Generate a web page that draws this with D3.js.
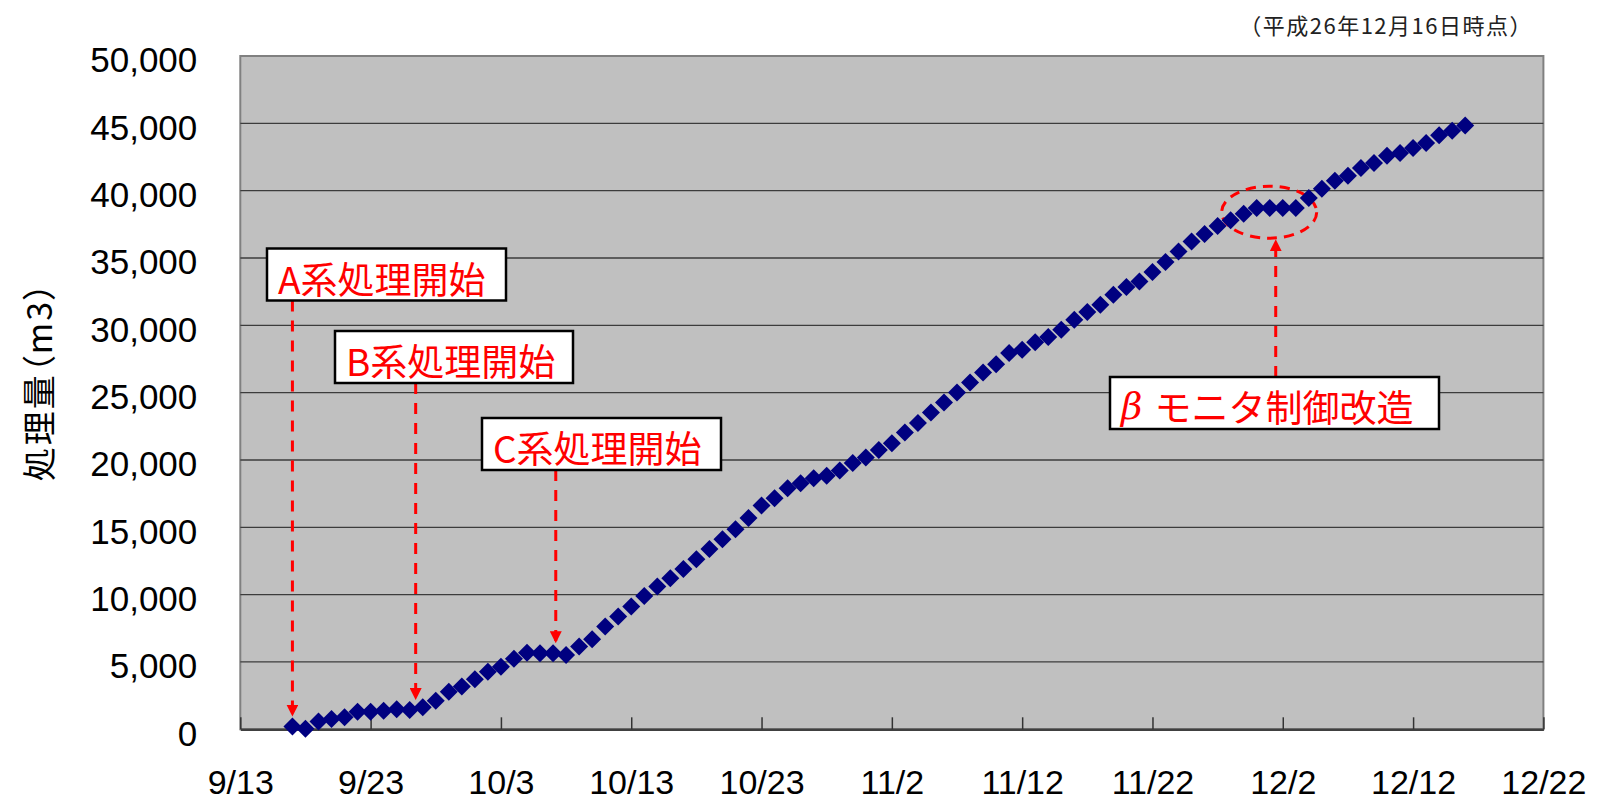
<!DOCTYPE html>
<html lang="ja">
<head>
<meta charset="utf-8">
<title>処理量の推移</title>
<script src="https://cdn.jsdelivr.net/npm/d3@7/dist/d3.min.js"></script>
<style>
  html, body { margin: 0; padding: 0; background: #ffffff; }
  svg { display: block; }
  .palt { font-feature-settings: "palt"; }
</style>
</head>
<body>
<div id="chart"></div>
<script>
// Daily cumulative treated volume (m3), 2014/9/17 - 2014/12/16
const days = [
  "9/17","9/18","9/19","9/20","9/21","9/22","9/23","9/24","9/25","9/26","9/27","9/28","9/29","9/30",
  "10/1","10/2","10/3","10/4","10/5","10/6","10/7","10/8","10/9","10/10","10/11","10/12","10/13","10/14",
  "10/15","10/16","10/17","10/18","10/19","10/20","10/21","10/22","10/23","10/24","10/25","10/26","10/27",
  "10/28","10/29","10/30","10/31",
  "11/1","11/2","11/3","11/4","11/5","11/6","11/7","11/8","11/9","11/10","11/11","11/12","11/13","11/14",
  "11/15","11/16","11/17","11/18","11/19","11/20","11/21","11/22","11/23","11/24","11/25","11/26","11/27",
  "11/28","11/29","11/30",
  "12/1","12/2","12/3","12/4","12/5","12/6","12/7","12/8","12/9","12/10","12/11","12/12","12/13","12/14",
  "12/15","12/16"
];
const volume = [
  200, 50, 570, 770, 890, 1310, 1310, 1380, 1480, 1430, 1630, 2120, 2790, 3170,
  3720, 4280, 4650, 5230, 5690, 5650, 5650, 5520, 6140, 6690, 7630, 8370, 9110, 9900,
  10600, 11220, 11910, 12630, 13380, 14120, 14860, 15700, 16620, 17160, 17900, 18280, 18650,
  18820, 19220, 19770, 20180,
  20750, 21250, 22040, 22740, 23530, 24270, 25010, 25750, 26500, 27100, 27940, 28180, 28750, 29130,
  29670, 30410, 30980, 31530, 32270, 32840, 33260, 33960, 34700, 35490, 36230, 36780, 37370,
  37810, 38290, 38710,
  38710, 38710, 38710, 39450, 40150, 40740, 41110, 41680, 42060, 42600, 42800, 43170, 43540, 44110,
  44450, 44830
];
const xTickLabels = ["9/13","9/23","10/3","10/13","10/23","11/2","11/12","11/22","12/2","12/12","12/22"];
const yTickValues = [0, 5000, 10000, 15000, 20000, 25000, 30000, 35000, 40000, 45000, 50000];

// Event annotations: label and the day the arrow points at
const eventLabels = ["A系処理開始", "B系処理開始", "C系処理開始", "モニタ制御改造"];
const eventDays   = ["9/17", "9/26", "10/7", "12/1"];

const YEAR = 2014;
const parseDay = s => d3.timeParse("%Y/%m/%d")(YEAR + "/" + s);

const W = 1597, H = 803;
const plot = { left: 240.3, right: 1543.4, top: 56, bottom: 729.3 };

const svg = d3.select("#chart").append("svg")
  .attr("width", W).attr("height", H)
  .attr("viewBox", `0 0 ${W} ${H}`);

const x = d3.scaleTime()
  .domain([parseDay(xTickLabels[0]), parseDay(xTickLabels[xTickLabels.length - 1])])
  .range([plot.left, plot.right]);
const y = d3.scaleLinear()
  .domain([0, 50000])
  .range([plot.bottom, plot.top]);

const data = days.map((d, i) => ({ date: parseDay(d), value: volume[i] }));

// Plot area background and frame
svg.append("rect")
  .attr("x", plot.left).attr("y", plot.top)
  .attr("width", plot.right - plot.left).attr("height", plot.bottom - plot.top)
  .attr("fill", "#c0c0c0")
  .attr("stroke", "#808080").attr("stroke-width", 2);

// Horizontal gridlines
svg.append("g").selectAll("line")
  .data(yTickValues.filter(v => v > 0 && v < 50000))
  .join("line")
  .attr("x1", plot.left).attr("x2", plot.right)
  .attr("y1", d => y(d)).attr("y2", d => y(d))
  .attr("stroke", "#3c3c3c").attr("stroke-width", 1.3);

// Y axis labels
const yAxis = svg.append("g")
  .attr("transform", `translate(${plot.left},0)`)
  .call(d3.axisLeft(y).tickValues(yTickValues).tickFormat(d3.format(",")).tickSize(0).tickPadding(43));
yAxis.select(".domain").remove();
yAxis.selectAll("text")
  .attr("dy", "0.45em")
  .attr("font-family", "'Liberation Sans', Arial, sans-serif")
  .attr("font-size", 35)
  .attr("fill", "#000");

// X axis: ticks pointing up into the plot, labels below
const xAxis = svg.append("g")
  .attr("transform", `translate(0,${plot.bottom})`)
  .call(d3.axisBottom(x).tickValues(xTickLabels.map(parseDay)).tickFormat((d, i) => xTickLabels[i])
    .tickSizeInner(-12).tickSizeOuter(0));
xAxis.select(".domain").attr("stroke", "#404040").attr("stroke-width", 2.5);
xAxis.selectAll(".tick line").attr("stroke", "#333").attr("stroke-width", 1.5);
xAxis.selectAll("text")
  .attr("y", 65).attr("dy", 0)
  .attr("font-family", "'Liberation Sans', Arial, sans-serif")
  .attr("font-size", 34)
  .attr("fill", "#000");

// Y axis title
svg.append("text")
  .attr("class", "palt")
  .attr("transform", `translate(37,381) rotate(-90)`)
  .attr("text-anchor", "middle")
  .attr("dominant-baseline", "central")
  .attr("font-family", "'Noto Sans CJK JP', sans-serif")
  .attr("font-size", 34)
  .attr("letter-spacing", 2)
  .attr("fill", "#000")
  .text("処理量（m3）");

// Date note
svg.append("text")
  .attr("x", 1533).attr("y", 24)
  .attr("text-anchor", "end")
  .attr("dominant-baseline", "central")
  .attr("font-family", "'Noto Sans CJK JP', sans-serif")
  .attr("font-size", 22)
  .attr("letter-spacing", 1.5)
  .attr("fill", "#222")
  .text("（平成26年12月16日時点）");

// Red annotation layer
const RED = "#ff0000";
const defs = svg.append("defs");
defs.append("marker")
  .attr("id", "arrowhead")
  .attr("viewBox", "0 0 12 12")
  .attr("refX", 12).attr("refY", 6)
  .attr("markerWidth", 12).attr("markerHeight", 12)
  .attr("markerUnits", "userSpaceOnUse")
  .attr("orient", "auto")
  .append("path").attr("d", "M0,0L12,6L0,12Z").attr("fill", RED);

const ann = svg.append("g");
const valueOn = day => volume[days.indexOf(day)];
const HOUR = 3600 * 1000;

// Box layout (pixels) for the four event labels
const boxes = [
  { x: 267, y: 248.5, w: 239, h: 52 },
  { x: 335, y: 331, w: 238, h: 52 },
  { x: 482, y: 418, w: 239, h: 52 },
  { x: 1110, y: 377, w: 329, h: 52 }
];
// Arrow anchors: slight hour offsets place each arrow between markers as drawn
const arrowShift = [0, 11, 5, 11];

eventLabels.forEach((label, i) => {
  const b = boxes[i];
  const ax = x(new Date(parseDay(eventDays[i]).getTime() + arrowShift[i] * HOUR));
  if (i < 3) {
    const tipY = y(valueOn(eventDays[i])) - 10;
    ann.append("line")
      .attr("x1", ax).attr("x2", ax)
      .attr("y1", b.y + b.h).attr("y2", tipY)
      .attr("stroke", RED).attr("stroke-width", 3)
      .attr("stroke-dasharray", "11,9")
      .attr("marker-end", "url(#arrowhead)");
  }
});

// Ellipse around the plateau while the beta monitor was being modified
const ellipseCenterDay = parseDay("12/1");
const ellipseCx = x(new Date(ellipseCenterDay.getTime() - 1 * HOUR));
const ellipseCy = y(38400);
ann.append("ellipse")
  .attr("cx", ellipseCx).attr("cy", ellipseCy)
  .attr("rx", 47.5).attr("ry", 26)
  .attr("fill", "none")
  .attr("stroke", RED).attr("stroke-width", 3)
  .attr("stroke-dasharray", "10,7");

// Arrow from the beta box up to the ellipse
{
  const b = boxes[3];
  const ax = x(new Date(parseDay(eventDays[3]).getTime() + arrowShift[3] * HOUR));
  ann.append("line")
    .attr("x1", ax).attr("x2", ax)
    .attr("y1", b.y).attr("y2", ellipseCy + 27)
    .attr("stroke", RED).attr("stroke-width", 3)
    .attr("stroke-dasharray", "11,9")
    .attr("marker-end", "url(#arrowhead)");
}

// Data markers (navy diamonds)
const R = 9;
svg.append("g").selectAll("path")
  .data(data)
  .join("path")
  .attr("transform", d => `translate(${x(d.date)},${y(d.value)})`)
  .attr("d", `M0,${-R}L${R},0L0,${R}L${-R},0Z`)
  .attr("fill", "#000080");

// Label boxes drawn above the markers
eventLabels.forEach((label, i) => {
  const b = boxes[i];
  const g = svg.append("g");
  g.append("rect")
    .attr("x", b.x).attr("y", b.y).attr("width", b.w).attr("height", b.h)
    .attr("fill", "#fff").attr("stroke", "#000").attr("stroke-width", 2.5);
  const t = g.append("text")
    .attr("x", b.x + 11).attr("y", b.y + b.h / 2 + 3)
    .attr("dominant-baseline", "central")
    .attr("font-family", "'Noto Sans CJK JP', sans-serif")
    .attr("font-size", 37)
    .attr("fill", RED);
  if (i === 3) {
    t.append("tspan").attr("font-style", "italic")
      .attr("font-family", "'DejaVu Serif', serif").text("β");
    t.append("tspan").attr("dx", 12).text(label);
  } else {
    t.text(label);
  }
});
</script>
</body>
</html>
